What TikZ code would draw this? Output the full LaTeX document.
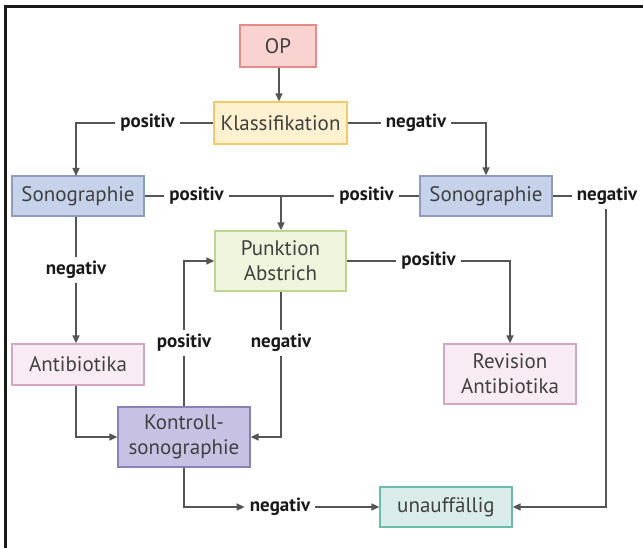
\documentclass[tikz,border=0pt]{standalone}
\usepackage{fontspec}
\setmainfont{PT Sans}
\usetikzlibrary{arrows.meta}
\definecolor{opfill}{HTML}{F8D3D0}\definecolor{opdraw}{HTML}{E88A85}
\definecolor{klfill}{HTML}{FDF1CF}\definecolor{kldraw}{HTML}{F3C96A}
\definecolor{sofill}{HTML}{C6D2EA}\definecolor{sodraw}{HTML}{8C9CC4}
\definecolor{pufill}{HTML}{EEF5DC}\definecolor{pudraw}{HTML}{BCD88F}
\definecolor{anfill}{HTML}{F8EBF3}\definecolor{andraw}{HTML}{D4A6C4}
\definecolor{kofill}{HTML}{C7C2E3}\definecolor{kodraw}{HTML}{8A80B8}
\definecolor{unfill}{HTML}{D9ECEA}\definecolor{undraw}{HTML}{6BBCAE}
\definecolor{linec}{HTML}{555555}
\definecolor{boxtext}{HTML}{404040}
\tikzset{
  box/.style={draw, line width=1.3pt, minimum width=132pt, inner sep=0pt, align=center,
    text=boxtext, font=\fontsize{21}{25}\selectfont},
  lbl/.style={font=\bfseries\fontsize{19}{22}\selectfont, text=black!90, inner xsep=5pt, inner ysep=4pt},
  conn/.style={draw=linec, line width=1.4pt},
  arr/.style={conn, -{Triangle[length=8pt,width=7pt]}},
}
\begin{document}
\begin{tikzpicture}[x=1pt,y=-1pt]
\useasboundingbox (0,0) rectangle (643,548);
\fill[white] (0,0) rectangle (643,548);
% frame
\draw[line width=2.5pt, black!90] (5.5,548) -- (5.5,6.5) -- (643,6.5);
% boxes
\node[box, fill=opfill, draw=opdraw, minimum width=76pt, minimum height=42pt] (op) at (278,46) {OP};
\node[box, fill=klfill, draw=kldraw, minimum width=133pt, minimum height=42pt] (kl) at (280.5,123) {Klassifikation};
\node[box, fill=sofill, draw=sodraw, minimum height=40pt] (soL) at (78,196) {Sonographie};
\node[box, fill=sofill, draw=sodraw, minimum height=40pt] (soR) at (486,196) {Sonographie};
\node[box, fill=pufill, draw=pudraw, minimum width=131pt, minimum height=60pt] (pu) at (280.5,261) {Punktion\\Abstrich};
\node[box, fill=anfill, draw=andraw, minimum height=41pt] (an) at (78,364.5) {Antibiotika};
\node[box, fill=anfill, draw=andraw, minimum height=60pt] (re) at (510,374) {Revision\\Antibiotika};
\node[box, fill=kofill, draw=kodraw, minimum height=60pt] (ko) at (184,437) {Kontroll-\\sonographie};
\node[box, fill=unfill, draw=undraw, minimum height=40pt] (un) at (446,507) {unauffällig};
% labels
\node[lbl] (l1) at (147.5,123) {positiv};
\node[lbl] (l2) at (416,123) {negativ};
\node[lbl] (l3) at (196.5,196) {positiv};
\node[lbl] (l4) at (366.5,196) {positiv};
\node[lbl] (l5) at (607,196) {negativ};
\node[lbl] (l6) at (76,270) {negativ};
\node[lbl] (l7) at (428.5,261) {positiv};
\node[lbl] (l8) at (184,343) {positiv};
\node[lbl] (l9) at (281,343) {negativ};
\node[lbl] (l10) at (280,507) {negativ};
\coordinate (sL) at (76,196);
\coordinate (mid) at (281,196);
% connectors
\draw[arr] (op.south -| 279,0) -- (kl.north -| 279,0);
\draw[conn] (kl.west) -- (l1.east);
\draw[arr] (l1.west) -- (76,123) -- (76,176);
\draw[conn] (kl.east) -- (l2.west);
\draw[arr] (l2.east) -| (soR.north);
\draw[conn] (soL.east) -- (l3.west);
\draw[conn] (l3.east) -- (l4.west);
\draw[conn] (l4.east) -- (soR.west);
\draw[arr] (mid) -- (pu.north -| mid);
\draw[conn] (soR.east) -- (l5.west);
\draw[arr] (l5.south -| 606,0) -- (606,507) -- (un.east);
\draw[conn] (soL.south -| sL) -- (l6.north -| sL);
\draw[arr] (l6.south -| sL) -- (an.north -| sL);
\draw[conn] (pu.east) -- (l7.west |- pu.east);
\draw[arr] (l7.east |- pu.east) -| (re.north);
\draw[arr] (an.south -| 76,0) |- (ko.west);
\draw[conn] (ko.north) -- (l8.south);
\draw[arr] (l8.north) |- (pu.west);
\draw[conn] (pu.south -| l9) -- (l9.north);
\draw[arr] (l9.south) |- (ko.east);
\draw[arr] (ko.south) |- (l10.west);
\draw[arr] (l10.east) -- (un.west);
\end{tikzpicture}
\end{document}
